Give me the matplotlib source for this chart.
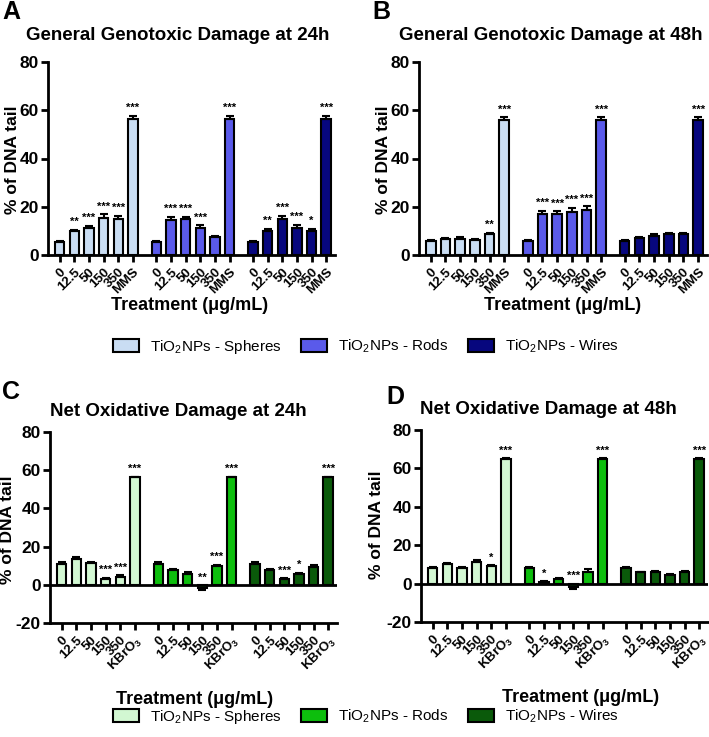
import numpy as np
import matplotlib
matplotlib.use("Agg")
import matplotlib.pyplot as plt
from matplotlib.patches import Patch

plt.rcParams['font.family'] = ['Liberation Sans', 'DejaVu Sans']
plt.rcParams['mathtext.default'] = 'regular'

# ---------------- data ----------------
doses_gen = ["0", "12.5", "50", "150", "350", "MMS"]
doses_ox = ["0", "12.5", "50", "150", "350", "KBrO$_3$"]
shapes = ["Spheres", "Rods", "Wires"]

# A: general genotoxic damage 24h
A_vals = [[5.5, 9.8, 11.2, 15.5, 14.8, 56.3],
          [5.5, 14.5, 15.0, 11.0, 7.5, 56.3],
          [5.5, 10.0, 14.8, 11.3, 9.8, 56.3]]
A_err = [[0.5, 0.6, 0.9, 1.3, 1.3, 1.5],
         [0.5, 1.2, 0.8, 1.3, 0.5, 1.5],
         [0.5, 0.8, 1.3, 1.2, 0.9, 1.5]]
A_sig = [["", "**", "***", "***", "***", "***"],
         ["", "***", "***", "***", "", "***"],
         ["", "**", "***", "***", "*", "***"]]

# B: general genotoxic damage 48h
B_vals = [[5.8, 6.5, 6.8, 6.3, 8.5, 56.0],
          [5.8, 16.8, 16.8, 18.0, 18.8, 56.0],
          [5.8, 7.0, 8.0, 8.5, 8.5, 56.0]]
B_err = [[0.4, 0.5, 0.6, 0.5, 0.7, 1.0],
         [0.4, 1.5, 1.3, 1.5, 1.4, 1.0],
         [0.4, 0.5, 0.6, 0.6, 0.6, 1.0]]
B_sig = [["", "", "", "", "**", "***"],
         ["", "***", "***", "***", "***", "***"],
         ["", "", "", "", "", "***"]]

# C: net oxidative damage 24h
C_vals = [[11.0, 13.5, 11.2, 3.2, 4.3, 56.3],
          [11.0, 7.5, 5.8, -1.8, 9.8, 56.3],
          [11.0, 7.8, 3.0, 5.8, 9.5, 56.3]]
C_err = [[0.8, 0.8, 0.7, 0.6, 0.6, 0.4],
         [0.8, 1.0, 0.7, 0.7, 0.8, 0.4],
         [0.8, 0.6, 0.6, 0.6, 0.7, 0.4]]
C_sig = [["", "", "", "***", "***", "***"],
         ["", "", "", "**", "***", "***"],
         ["", "", "***", "*", "", "***"]]

# D: net oxidative damage 48h
D_vals = [[8.2, 10.2, 8.3, 11.5, 9.0, 64.8],
          [8.2, 1.0, 2.2, -1.8, 6.3, 64.8],
          [8.2, 5.8, 5.8, 4.5, 5.8, 64.8]]
D_err = [[0.6, 0.6, 0.6, 0.8, 0.7, 0.4],
         [0.6, 0.5, 0.7, 0.8, 1.5, 0.4],
         [0.6, 0.5, 0.6, 0.5, 0.6, 0.4]]
D_sig = [["", "", "", "", "*", "***"],
         ["", "*", "", "***", "", "***"],
         ["", "", "", "", "", "***"]]

blue_cols = ["#C9DDF3", "#5A5AEA", "#07077E"]
green_cols = ["#D2F7D2", "#0DBE0D", "#0A5A0A"]

W, H = 709, 737
fig = plt.figure(figsize=(W / 100, H / 100), dpi=100)

def fx(px):
    return px / W

def fy(py):
    return 1 - py / H

STEP = 6.6

def draw(ax, vals, errs, sigs, labels, cols, ylim, yticks):
    pos_all, lab_all = [], []
    for g in range(3):
        pos = np.arange(6) + g * STEP
        v = np.array(vals[g])
        e = np.array(errs[g])
        ax.bar(pos, v, width=0.65, color=cols[g], edgecolor="black",
               linewidth=1.5, zorder=3)
        lower = np.where(v < 0, e, 0)
        upper = np.where(v >= 0, e, 0)
        ax.errorbar(pos, v, yerr=[lower, upper], fmt="none", ecolor="black",
                    elinewidth=1.5, capsize=3, capthick=1.5, zorder=4)
        for p, val, er, s in zip(pos, v, e, sigs[g]):
            if s:
                top = max(val, 0) + (er if val >= 0 else 0)
                ax.text(p, top + 1.2, s, ha="center", va="bottom",
                        fontsize=8, fontweight="bold", zorder=5)
        pos_all += list(pos)
        lab_all += labels
    ax.set_xlim(-0.8, 2 * STEP + 5.6)
    ax.set_ylim(*ylim)
    ax.set_yticks(yticks)
    ax.set_yticklabels([str(t) for t in yticks], fontsize=12.5, fontweight="bold")
    ax.set_xticks(pos_all)
    ax.set_xticklabels(lab_all, rotation=45, ha="right", rotation_mode="anchor",
                       fontsize=9.5, fontweight="bold")
    for s in ["top", "right"]:
        ax.spines[s].set_visible(False)
    for s in ["left", "bottom"]:
        ax.spines[s].set_linewidth(2)
    ax.tick_params(axis="both", width=2, length=5, pad=1.5)
    ax.tick_params(axis="x", pad=3)
    if ylim[0] < 0:
        ax.axhline(0, color="black", linewidth=2, zorder=5)

# axes positions (pixel-measured)
axA = fig.add_axes([fx(48), fy(255), fx(335) - fx(48), fy(62) - fy(255)])
axB = fig.add_axes([fx(419), fy(255), fx(707) - fx(419), fy(62) - fy(255)])
axC = fig.add_axes([fx(50), fy(623), fx(337) - fx(50), fy(432) - fy(623)])
axD = fig.add_axes([fx(421), fy(622), fx(708) - fx(421), fy(430) - fy(622)])

draw(axA, A_vals, A_err, A_sig, doses_gen, blue_cols, (0, 80), [0, 20, 40, 60, 80])
draw(axB, B_vals, B_err, B_sig, doses_gen, blue_cols, (0, 80), [0, 20, 40, 60, 80])
draw(axC, C_vals, C_err, C_sig, doses_ox, green_cols, (-20, 80), [-20, 0, 20, 40, 60, 80])
draw(axD, D_vals, D_err, D_sig, doses_ox, green_cols, (-20, 80), [-20, 0, 20, 40, 60, 80])

# y labels
ykw = dict(fontsize=12.5, fontweight="bold", ha="center", va="center", rotation=90)
fig.text(fx(13), fy(160), "% of DNA tail", **ykw)
fig.text(fx(383), fy(160), "% of DNA tail", **ykw)
fig.text(fx(8), fy(530), "% of DNA tail", **ykw)
fig.text(fx(377), fy(525), "% of DNA tail", **ykw)

# titles, letters, x labels
tkw = dict(fontsize=13.5, fontweight="bold", ha="center", va="center")
fig.text(fx(178), fy(35), "General Genotoxic Damage at 24h", **tkw)
fig.text(fx(551), fy(35), "General Genotoxic Damage at 48h", **tkw)
fig.text(fx(178), fy(412), "Net Oxidative Damage at 24h", **tkw)
fig.text(fx(548), fy(410), "Net Oxidative Damage at 48h", **tkw)

lkw = dict(fontsize=18, fontweight="bold", ha="left", va="center")
fig.text(fx(2), fy(12), "A", **lkw)
fig.text(fx(372), fy(12), "B", **lkw)
fig.text(fx(2), fy(392), "C", **lkw)
fig.text(fx(386), fy(397), "D", **lkw)

xkw = dict(fontsize=13, fontweight="bold", ha="center", va="center")
fig.text(fx(190), fy(305), "Treatment (\u03bcg/mL)", **xkw)
fig.text(fx(563), fy(305), "Treatment (\u03bcg/mL)", **xkw)
fig.text(fx(195), fy(700), "Treatment (\u03bcg/mL)", **xkw)
fig.text(fx(581), fy(697), "Treatment (\u03bcg/mL)", **xkw)

# legends
def legend(cols, y):
    handles = [Patch(facecolor=c, edgecolor="black", linewidth=1.5,
                     label="TiO$_2$NPs - " + s) for c, s in zip(cols, shapes)]
    fig.legend(handles=handles, loc="center", bbox_to_anchor=(fx(366), fy(y)),
               ncol=3, frameon=False, fontsize=11, handlelength=1.7,
               handleheight=0.9, columnspacing=1.3, handletextpad=0.7)

legend(blue_cols, 347)
legend(green_cols, 717)

fig.savefig("out.png", dpi=100)
